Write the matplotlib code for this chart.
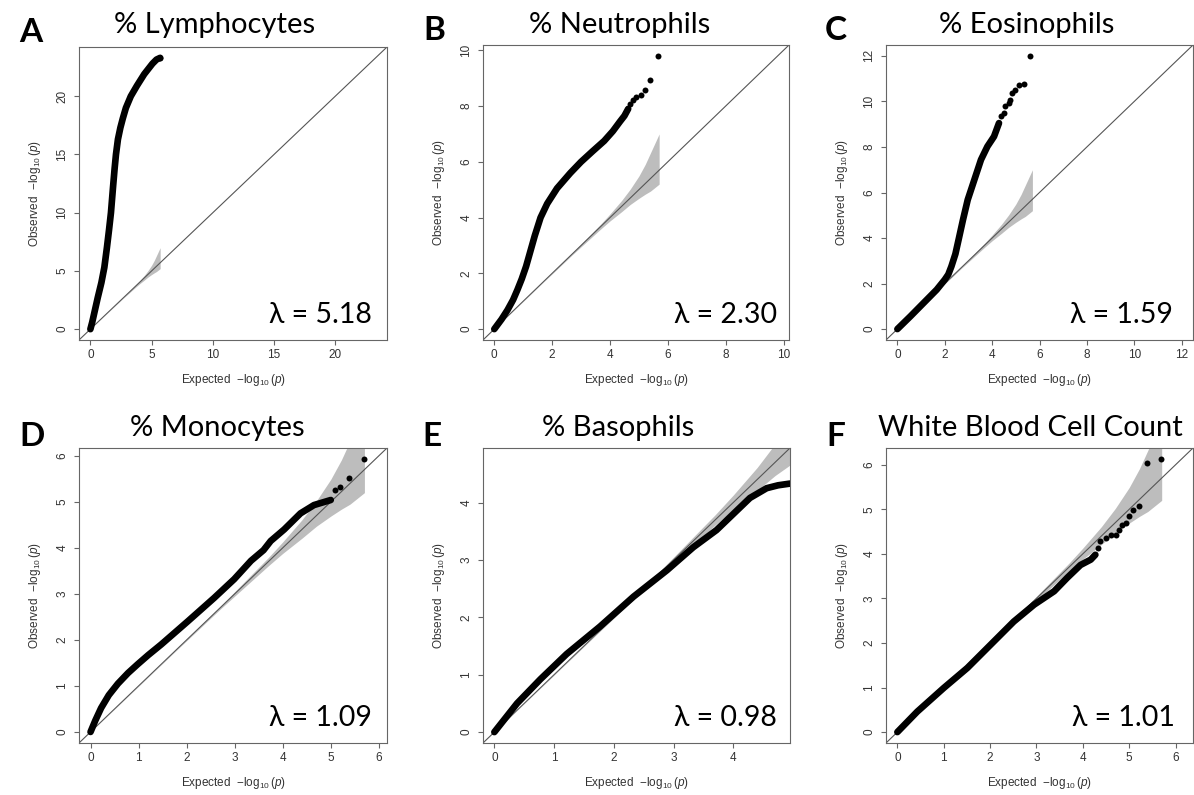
import matplotlib
matplotlib.use("Agg")
import matplotlib.pyplot as plt

plt.rcParams['mathtext.fontset'] = 'custom'
plt.rcParams['mathtext.rm'] = 'Liberation Sans'
plt.rcParams['mathtext.it'] = 'Liberation Sans:italic'
plt.rcParams['font.family'] = ['Liberation Sans', 'DejaVu Sans']

# ---------------- data ----------------
titles = ["% Lymphocytes", "% Neutrophils", "% Eosinophils",
          "% Monocytes", "% Basophils", "White Blood Cell Count"]
letters = ["A", "B", "C", "D", "E", "F"]
lambdas = ["5.18", "2.30", "1.59", "1.09", "0.98", "1.01"]

# dense part of each QQ curve (expected, observed)
curveA_x = [0, 0.15, 0.3, 0.6, 0.9, 1.14, 1.35, 1.52, 1.68, 1.85, 1.98, 2.09, 2.25, 2.45,
            2.65, 2.9, 3.3, 3.8, 4.4, 5.07, 5.4, 5.7]
curveA_y = [0, 0.6, 1.3, 2.7, 4.0, 5.3, 7.0, 8.5, 10.0, 12.2, 13.8, 15.0, 16.3, 17.3,
            18.1, 19.0, 20.0, 20.9, 21.9, 22.8, 23.15, 23.3]
curveB_x = [0, 0.25, 0.46, 0.65, 0.8, 0.95, 1.1, 1.25, 1.4, 1.6, 1.83, 2.17, 2.63, 3.0,
            3.4, 3.8, 4.1, 4.35, 4.5, 4.63]
curveB_y = [0, 0.35, 0.69, 1.05, 1.41, 1.8, 2.25, 2.8, 3.35, 4.0, 4.5, 5.05, 5.6, 6.0,
            6.38, 6.75, 7.1, 7.45, 7.65, 7.9]
curveC_x = [0, 0.55, 1.1, 1.66, 2.0, 2.15, 2.28, 2.45, 2.6, 2.77, 2.97, 3.25, 3.53, 3.8,
            4.08, 4.29]
curveC_y = [0, 0.56, 1.14, 1.73, 2.17, 2.4, 2.75, 3.3, 4.0, 4.8, 5.68, 6.56, 7.44, 8.02,
            8.46, 9.05]
curveD_x = [0, 0.1, 0.22, 0.38, 0.57, 0.78, 0.98, 1.2, 1.47, 2.02, 2.57, 2.99, 3.34, 3.6,
            3.75, 4.03, 4.37, 4.65, 5.0]
curveD_y = [0, 0.25, 0.52, 0.8, 1.05, 1.28, 1.47, 1.67, 1.9, 2.4, 2.91, 3.32, 3.72, 3.95,
            4.15, 4.4, 4.75, 4.93, 5.04]
curveE_x = [0, 0.38, 0.77, 1.21, 1.77, 2.33, 2.89, 3.33, 3.72, 4.0, 4.28, 4.56, 4.75, 4.95]
curveE_y = [0, 0.5, 0.92, 1.36, 1.84, 2.36, 2.82, 3.22, 3.52, 3.8, 4.08, 4.25, 4.3, 4.33]
curveF_x = [0, 0.43, 1.0, 1.51, 2.01, 2.51, 2.95, 3.38, 3.66, 3.95, 4.17, 4.27]
curveF_y = [0, 0.46, 0.99, 1.44, 1.96, 2.48, 2.86, 3.16, 3.46, 3.75, 3.87, 3.98]

# sparse tail points
tailA_x, tailA_y = [5.7], [23.3]
tailB_x = [4.69, 4.8, 4.91, 5.09, 5.22, 5.37, 5.66]
tailB_y = [8.09, 8.2, 8.33, 8.39, 8.57, 8.93, 9.79]
tailC_x = [4.36, 4.5, 4.56, 4.7, 4.77, 4.84, 4.98, 5.12, 5.33, 5.62]
tailC_y = [9.34, 9.49, 9.78, 9.93, 10.07, 10.37, 10.51, 10.73, 10.78, 12.0]
tailD_x = [5.09, 5.2, 5.38, 5.69]
tailD_y = [5.26, 5.33, 5.52, 5.93]
tailE_x, tailE_y = [], []
tailF_x = [4.33, 4.38, 4.49, 4.6, 4.71, 4.78, 4.85, 4.92, 4.99, 5.09, 5.21, 5.39, 5.68]
tailF_y = [4.13, 4.28, 4.35, 4.43, 4.43, 4.54, 4.65, 4.69, 4.84, 4.99, 5.08, 6.04, 6.13]

# 95% confidence band around the null diagonal
band_x  = [0, 1.7, 2.7, 3.7, 4.0, 4.4, 4.7, 5.0, 5.22, 5.4, 5.7]
band_hi = [0, 1.71, 2.73, 3.79, 4.13, 4.61, 5.02, 5.49, 5.91, 6.32, 7.0]
band_lo = [0, 1.69, 2.67, 3.61, 3.88, 4.21, 4.47, 4.69, 4.84, 4.95, 5.2]

limits = [(-0.93, 24.23), (-0.39, 10.19), (-0.48, 12.48),
          (-0.24, 6.17), (-0.19, 4.95), (-0.245, 6.375)]
ticks = [[0, 5, 10, 15, 20], [0, 2, 4, 6, 8, 10], [0, 2, 4, 6, 8, 10, 12],
         [0, 1, 2, 3, 4, 5, 6], [0, 1, 2, 3, 4], [0, 1, 2, 3, 4, 5, 6]]

curves = [(curveA_x, curveA_y), (curveB_x, curveB_y), (curveC_x, curveC_y),
          (curveD_x, curveD_y), (curveE_x, curveE_y), (curveF_x, curveF_y)]
tails = [(tailA_x, tailA_y), (tailB_x, tailB_y), (tailC_x, tailC_y),
         (tailD_x, tailD_y), (tailE_x, tailE_y), (tailF_x, tailF_y)]

# ---------------- layout (pixels) ----------------
W, H = 1194, 795
boxes = [(79, 47, 387, 340), (483, 45, 789, 340), (886, 45, 1193, 340),
         (79, 448, 387, 743), (483, 448, 790, 743), (886, 448, 1193, 743)]
title_pos = [(215, 25), (620, 25), (1027, 25), (217, 428), (618, 428), (1030, 428)]
letter_pos = [(31, 32), (434, 30), (836, 30), (32, 437), (432, 437), (836, 437)]
lam_pos = [(372, 315), (777, 315), (1173, 315), (372, 718), (777, 718), (1175, 718)]

fig = plt.figure(figsize=(W / 100, H / 100), dpi=100)
frame_col = '#666666'

for i in range(6):
    x0, y0, x1, y1 = boxes[i]
    ax = fig.add_axes([x0 / W, 1 - y1 / H, (x1 - x0) / W, (y1 - y0) / H])
    lo, hi = limits[i]
    ax.set_xlim(lo, hi)
    ax.set_ylim(lo, hi)
    ax.fill_between(band_x, band_lo, band_hi, color='#bdbdbd', lw=0, zorder=1)
    ax.axline((0, 0), slope=1, color='#555555', lw=0.8, zorder=2)
    cx, cy = curves[i]
    ax.plot(cx, cy, '-', color='black', lw=4.8, solid_capstyle='round',
            solid_joinstyle='round', zorder=3)
    tx, ty = tails[i]
    if tx:
        ax.plot(tx, ty, 'o', color='black', ms=4.3, mew=0, zorder=3)
    ax.set_xticks(ticks[i])
    ax.set_yticks(ticks[i])
    ax.tick_params(direction='out', length=3.6, width=0.8, color=frame_col,
                   labelsize=8.5, labelcolor='#333333', pad=3)
    ax.tick_params(axis='y', pad=4)
    for lab in ax.get_yticklabels():
        lab.set_rotation(90)
        lab.set_va('center')
    for sp in ax.spines.values():
        sp.set_color(frame_col)
        sp.set_linewidth(0.8)
    ax.set_xlabel(r'Expected  $-\log_{10}(p)$', fontsize=8.5, color='#333333')
    ax.set_ylabel(r'Observed  $-\log_{10}(p)$', fontsize=8.5, color='#333333')
    hpx = y1 - y0
    wpx = x1 - x0
    ax.xaxis.set_label_coords(0.5, -40 / hpx)
    ax.xaxis.label.set_va('center')
    ax.yaxis.set_label_coords(-44 / wpx, 0.5)
    ax.yaxis.label.set_va('center')
    ax.yaxis.label.set_ha('center')

    tx_, ty_ = title_pos[i]
    fig.text(tx_ / W, 1 - ty_ / H, titles[i], fontsize=21, ha='center', va='center',
             family=['Lato', 'DejaVu Sans'])
    lx, ly = letter_pos[i]
    fig.text(lx / W, 1 - ly / H, letters[i], fontsize=24, fontweight='bold',
             ha='center', va='center', family=['Lato', 'DejaVu Sans'])
    mx, my = lam_pos[i]
    fig.text(mx / W, 1 - my / H, "λ = " + lambdas[i], fontsize=20.5, ha='right',
             va='center', family=['Lato', 'DejaVu Sans'])

fig.savefig('out.png', dpi=100, facecolor='white')
